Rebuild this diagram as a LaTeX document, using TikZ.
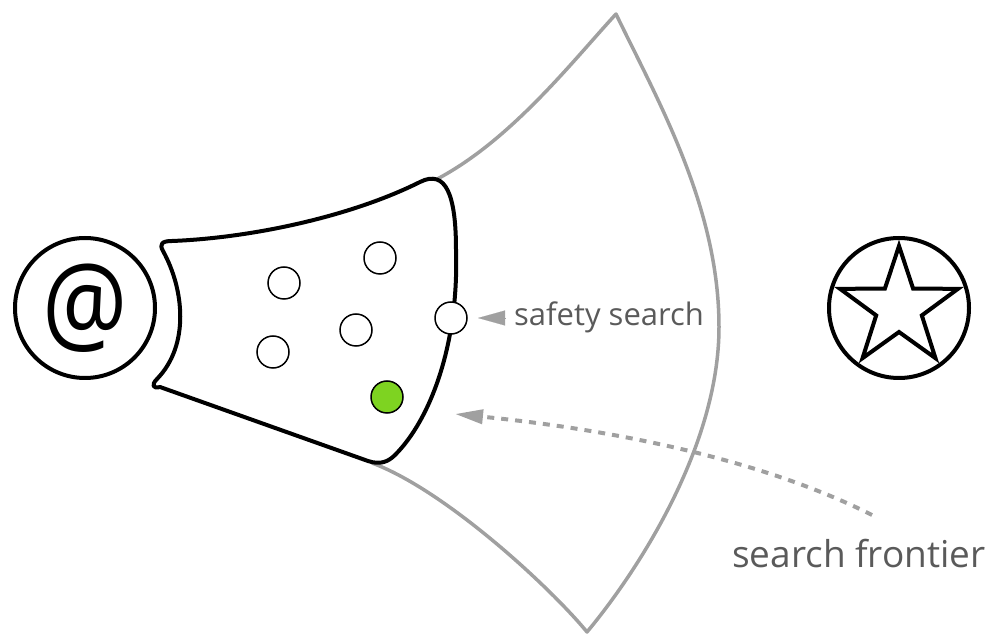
\documentclass[tikz,border=0pt]{standalone}
\usepackage{fontspec}
\setmainfont{Open Sans}
\usetikzlibrary{arrows.meta}
\definecolor{frame}{HTML}{A0A0A0}
\definecolor{txt}{HTML}{5A5A5A}
\definecolor{goalgreen}{HTML}{7ED321}
\begin{document}
\begin{tikzpicture}[x=1pt,y=1pt,
  bigcirc/.style={circle, draw=black, line width=4pt, minimum size=140pt, inner sep=0pt},
  state/.style={circle, draw=black, line width=1.5pt, fill=white, minimum size=32pt, inner sep=0pt},
  found/.style={state, fill=goalgreen},
  sector/.style={draw=frame, line width=3.5pt, line join=round},
  region/.style={draw=black, fill=white, line width=4pt, line join=round},
  lbl/.style={text=txt, inner sep=0pt, anchor=base west},
  pointer/.style={draw=frame, line width=4pt, dash pattern=on 7pt off 7pt, -{Triangle[length=28pt,width=14pt]}},
  marker/.style={draw=frame, fill=frame, line width=0.1pt, -{Triangle[length=27pt,width=15pt]}},
  ]
\useasboundingbox (0,0) rectangle (999,635);

% grey sector
\draw[sector] (372,172) .. controls (445,145) and (550,48) .. (587,3)
  .. controls (637,63) and (719,188) .. (719,308)
  .. controls (719,428) and (658,534) .. (616,621)
  .. controls (560,560) and (480,455) .. (380,435);

% explored region
\draw[region] (420,453) .. controls (350,418) and (250,397) .. (172,394)
  .. controls (162,394) and (159,391) .. (163,384)
  .. controls (184,346) and (190,290) .. (157,256)
  .. controls (151,250) and (153,246) .. (160,248)
  -- (368,174)
  .. controls (380,170) and (388,173) .. (395,180)
  .. controls (430,215) and (459,290) .. (456,385)
  .. controls (456,440) and (446,466) .. (420,453) -- cycle;

% start and goal
\node[bigcirc, font=\fontsize{95}{110}\selectfont] (start) at (85,327) {\raisebox{-2pt}{\scalebox{1}[1.16]{@}}};
\node[bigcirc] (goal) at (899,327) {};
\begin{scope}[shift={(goal.center)}]
\draw[line width=4pt, line join=miter] (90:62) -- (126:24) -- (162:62) -- (198:24) -- (234:62)
  -- (270:24) -- (306:62) -- (342:24) -- (18:62) -- (54:24) -- cycle;
\end{scope}

% states
\node[state] (s1) at (284,352) {};
\node[state] (s2) at (380,377) {};
\node[state] (s3) at (273,283) {};
\node[state] (s4) at (356,305) {};
\node[state] (safe) at (451,317) {};
\node[found] (hit) at (387,238) {};

% labels
\node[lbl, font=\fontsize{31}{37}\selectfont] (safetylbl) at (514,309) {safety search};
\node[lbl, font=\fontsize{37}{44}\selectfont] (frontierlbl) at (732,68) {search frontier};

\coordinate (safetytail) at (505,317);
\coordinate (safetytip) at (478,317);
\draw[marker] (safetytail) -- (safetytip);

\coordinate (frontiertail) at (872,120);
\coordinate (frontiertip) at (455,221);
\draw[pointer] (frontiertail) .. controls (775,169) and (636,203) .. (frontiertip);
\end{tikzpicture}
\end{document}
